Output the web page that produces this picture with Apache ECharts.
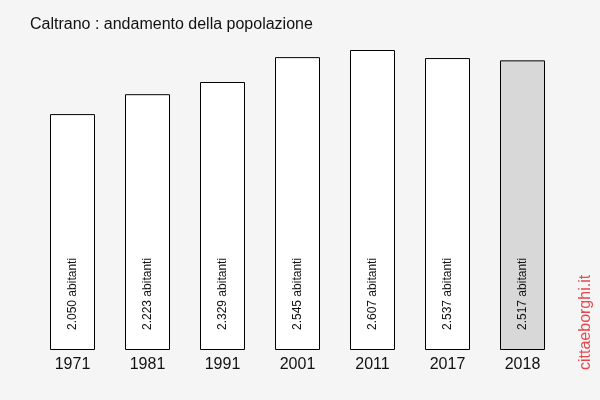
<!DOCTYPE html>
<html><head><meta charset="utf-8">
<script src="https://cdn.jsdelivr.net/npm/echarts@6/dist/echarts.min.js"></script>
<style>html,body{margin:0;padding:0;background:#f5f5f5}#c{width:600px;height:400px}</style>
</head><body><div id="c"></div>
<script>
const categories = ['1971','1981','1991','2001','2011','2017','2018'];
const values = [2050, 2223, 2329, 2545, 2607, 2537, 2517];
const highlightIndex = 6;
const fmt = v => String(v).replace(/\B(?=(\d{3})+(?!\d))/g, '.');
const chart = echarts.init(document.getElementById('c'), null, {renderer:'canvas'});
chart.setOption({
  backgroundColor: '#f5f5f5',
  animation: false,
  title: {text: 'Caltrano : andamento della popolazione', left: 25, top: 12,
    textStyle: {fontFamily: 'Arial, Liberation Sans', fontSize: 16, fontWeight: 'normal', color: '#111'}},
  grid: {left: 35, right: 40, top: 20, bottom: 50},
  xAxis: {type: 'category', data: categories,
    axisLine: {show: false}, axisTick: {show: false},
    axisLabel: {fontFamily: 'Arial, Liberation Sans', fontSize: 16, color: '#111', margin: 7}},
  yAxis: {type: 'value', min: 0, max: Math.max(...values) * 1.1, show: false},
  series: [{
    type: 'bar', barWidth: 45,
    data: values.map((v, i) => ({value: v, itemStyle: {color: i === highlightIndex ? '#d8d8d8' : '#ffffff'}})),
    itemStyle: {borderColor: '#000', borderWidth: 1},
    label: {show: true, position: 'insideBottom', rotate: 90, distance: 20, align: 'left', verticalAlign: 'middle',
      fontFamily: 'Arial, Liberation Sans', fontSize: 12, color: '#111',
      formatter: p => fmt(p.value) + ' abitanti'}
  }],
  graphic: [{type: 'text', x: 594, y: 370, rotation: Math.PI / 2,
    style: {text: 'cittaeborghi.it', fontFamily: 'Arial, Liberation Sans', fontSize: 16, fill: '#e8474f',
      textAlign: 'left', textVerticalAlign: 'bottom'}}]
});
</script></body></html>
